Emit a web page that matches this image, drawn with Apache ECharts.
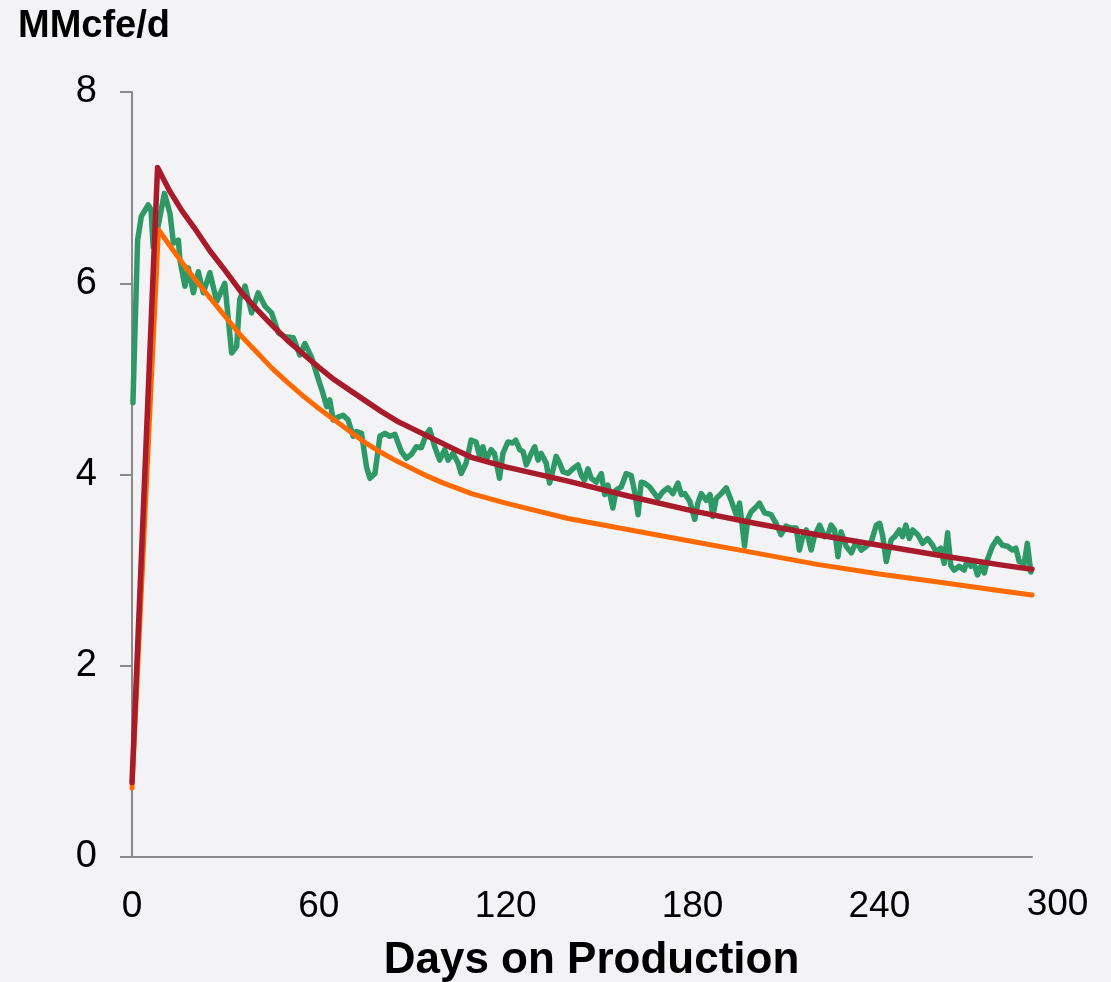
<!DOCTYPE html>
<html><head><meta charset="utf-8">
<script src="https://cdn.jsdelivr.net/npm/echarts@6/dist/echarts.min.js"></script>
<style>html,body{margin:0;padding:0;background:#f3f3f6}#c{width:1111px;height:982px}</style>
</head><body><div id="c"></div>
<script>
// ---- data ----
const xTickLabels = ['0', '60', '120', '180', '240', '300'];
const yTickValues = [0, 2, 4, 6, 8];

// Actual production (noisy daily curve)
const greenDays = [0.3,1.8,3.0,5.2,6.1,6.8,8.4,10.4,12.2,13.3,14.9,15.4,17.0,18.1,19.7,21.3,22.9,25.0,27.2,29.8,32.0,33.6,34.6,36.3,38.4,40.5,42.7,44.8,47.0,49.1,51.8,53.9,55.5,57.6,59.8,61.4,62.5,63.5,64.6,66.2,67.8,69.4,71.0,72.1,73.7,75.3,76.4,78.0,79.6,81.2,82.8,84.4,86.5,88.1,89.7,91.3,92.9,94.5,95.6,97.2,98.8,100.4,101.5,103.1,104.7,105.7,107.3,108.9,110.5,111.6,112.7,113.7,115.3,116.4,118.0,119.1,120.7,122.3,123.2,124.5,125.6,126.6,128.2,129.3,130.4,131.4,133.0,134.1,135.2,136.2,137.3,138.4,140.0,141.6,143.2,144.3,145.3,146.4,147.5,149.1,150.7,151.8,152.8,154.4,155.5,157.1,158.7,160.3,161.4,162.5,163.5,164.6,166.2,167.8,168.9,170.5,172.1,173.7,175.3,176.4,177.5,179.1,180.7,181.7,182.8,184.4,185.6,186.5,187.6,189.2,190.8,192.4,194.0,195.1,196.7,197.7,198.8,200.4,201.5,203.1,205.2,206.8,208.4,210.0,211.6,213.3,214.3,215.4,216.5,218.1,219.1,220.8,222.4,223.5,224.5,225.6,226.7,227.7,229.3,231.0,232.6,234.2,235.8,237.4,239.0,240.1,241.1,242.2,243.8,244.9,246.4,247.4,248.5,249.6,250.7,252.3,253.9,255.5,257.1,258.2,259.7,260.8,261.9,262.9,264.0,265.6,267.2,268.3,269.4,270.4,271.5,272.6,273.7,274.7,276.3,277.9,279.5,281.1,282.7,283.8,284.9,286.5,287.5,288.6];
const greenRates = [4.75,6.45,6.70,6.82,6.77,6.38,6.60,6.94,6.73,6.42,6.45,6.24,5.97,6.16,5.90,6.12,5.90,6.11,5.81,6.00,5.27,5.34,5.83,5.97,5.69,5.90,5.76,5.69,5.48,5.44,5.43,5.25,5.37,5.23,5.00,4.84,4.71,4.78,4.57,4.60,4.62,4.57,4.40,4.45,4.43,4.08,3.96,4.01,4.40,4.43,4.40,4.42,4.24,4.17,4.21,4.29,4.28,4.42,4.47,4.29,4.15,4.26,4.15,4.22,4.12,4.01,4.12,4.36,4.34,4.19,4.29,4.15,4.26,4.22,3.96,4.22,4.34,4.33,4.36,4.26,4.24,4.10,4.22,4.29,4.15,4.22,4.12,3.91,4.05,4.19,4.12,4.03,4.01,4.06,4.10,3.99,3.94,4.06,3.96,3.92,4.01,3.79,3.89,3.65,3.84,3.87,4.01,3.99,3.82,3.58,3.92,3.91,3.87,3.80,3.75,3.82,3.86,3.80,3.91,3.79,3.80,3.72,3.53,3.70,3.80,3.73,3.79,3.56,3.75,3.80,3.86,3.73,3.58,3.70,3.25,3.53,3.61,3.66,3.70,3.60,3.58,3.49,3.37,3.46,3.44,3.44,3.21,3.35,3.42,3.21,3.35,3.47,3.35,3.37,3.47,3.42,3.14,3.40,3.25,3.18,3.30,3.21,3.25,3.30,3.47,3.49,3.35,3.09,3.32,3.35,3.42,3.35,3.47,3.33,3.42,3.37,3.28,3.33,3.26,3.19,3.23,3.07,3.39,3.05,3.00,3.04,3.00,3.11,3.04,3.07,2.95,3.04,2.97,3.11,3.25,3.33,3.26,3.25,3.21,3.23,3.09,3.07,3.28,2.98];

// Upper type curve (dark red)
const redDays  = [0, 8.2, 12, 16, 20, 25, 30, 35, 40, 45, 50, 55, 60, 65, 70, 75, 80, 85, 90, 95, 100, 105, 109, 120, 140, 160, 180, 200, 220, 240, 260, 280, 289];
const redRates = [0.78, 7.21, 6.97, 6.76, 6.58, 6.34, 6.13, 5.91, 5.73, 5.56, 5.40, 5.26, 5.12, 4.99, 4.88, 4.77, 4.66, 4.56, 4.48, 4.40, 4.32, 4.24, 4.18, 4.08, 3.93, 3.77, 3.62, 3.49, 3.37, 3.26, 3.15, 3.05, 3.01];

// Lower type curve (orange)
const orangeDays  = [0, 8.5, 12, 16, 20, 25, 30, 35, 40, 45, 50, 55, 60, 65, 70, 75, 80, 85, 90, 95, 100, 105, 109, 120, 140, 160, 180, 200, 220, 240, 260, 280, 289];
const orangeRates = [0.72, 6.56, 6.40, 6.22, 6.05, 5.85, 5.65, 5.45, 5.28, 5.11, 4.96, 4.82, 4.69, 4.57, 4.45, 4.33, 4.23, 4.14, 4.06, 3.98, 3.91, 3.85, 3.80, 3.70, 3.54, 3.42, 3.30, 3.18, 3.06, 2.96, 2.87, 2.78, 2.74];

const X_MAX = 289;

const zip = (a, b) => a.map((d, i) => [d, b[i]]);

const chart = echarts.init(document.getElementById('c'), null, { renderer: 'canvas' });
const FONT = '"Liberation Sans", Arial, Helvetica, sans-serif';
const axisGray = '#8a8a8a';

chart.setOption({
  backgroundColor: '#f3f3f6',
  animation: false,
  title: {
    text: 'MMcfe/d',
    left: 18, top: 8, padding: 0,
    textStyle: { fontFamily: FONT, fontWeight: 'bold', fontSize: 38, color: '#000' }
  },
  grid: { left: 132, right: 79, top: 92, bottom: 125, containLabel: false, outerBoundsMode: 'none' },
  xAxis: {
    type: 'value', min: 0, max: X_MAX, interval: 60,
    name: 'Days on Production', nameLocation: 'middle', nameGap: 82,
    nameTextStyle: { fontFamily: FONT, fontWeight: 'bold', fontSize: 44, color: '#000', padding: [0, 0, 0, 19] },
    axisLine: { show: true, onZero: false, lineStyle: { color: axisGray, width: 2 } },
    axisTick: { show: false },
    splitLine: { show: false },
    axisLabel: {
      margin: 31, fontFamily: FONT, fontSize: 37, color: '#000',
      showMaxLabel: true, showMinLabel: true,
      formatter: v => {
        if (Math.abs(v - X_MAX) < 1e-6) return '{end|' + xTickLabels[5] + '}';
        const i = Math.round(v / 60);
        return (Math.abs(v - i * 60) < 1e-6 && i < 5) ? xTickLabels[i] : '';
      },
      rich: { end: { fontFamily: FONT, fontSize: 37, lineHeight: 33, color: '#000', padding: [0, 0, 0, 51] } }
    }
  },
  yAxis: {
    type: 'value', min: yTickValues[0], max: yTickValues[yTickValues.length - 1], interval: 2,
    axisLine: { show: true, lineStyle: { color: axisGray, width: 2 } },
    axisTick: { show: true, inside: false, length: 12, lineStyle: { color: axisGray, width: 2 } },
    splitLine: { show: false },
    axisLabel: { margin: 35, fontFamily: FONT, fontSize: 38, color: '#000' }
  },
  series: [
    {
      name: 'Actual', type: 'line', data: zip(greenDays, greenRates), symbol: 'none',
      lineStyle: { color: '#2e9966', width: 5.5, cap: 'round', join: 'round' }, z: 2
    },
    {
      name: 'Type curve low', type: 'line', data: zip(orangeDays, orangeRates), symbol: 'none',
      lineStyle: { color: '#ff6a00', width: 5, cap: 'round', join: 'round' }, z: 3
    },
    {
      name: 'Type curve high', type: 'line', data: zip(redDays, redRates), symbol: 'none',
      lineStyle: { color: '#a81b2b', width: 5.5, cap: 'round', join: 'round' }, z: 4
    }
  ]
});
</script></body></html>
